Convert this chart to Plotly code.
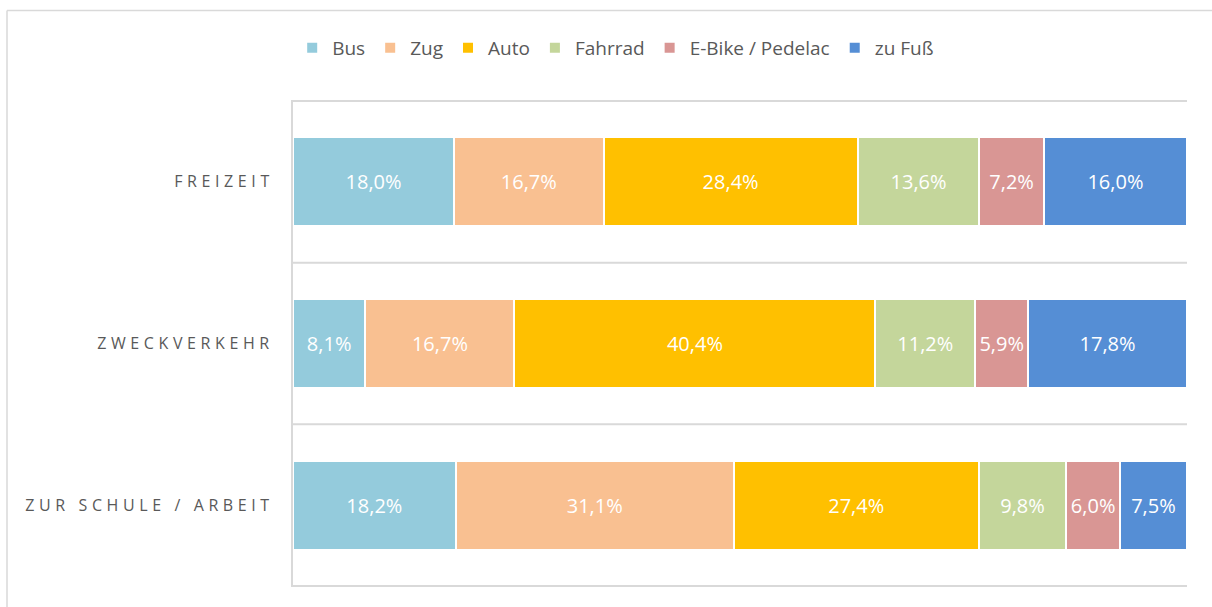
import plotly.graph_objects as go

categories = ["FREIZEIT", "ZWECKVERKEHR", "ZUR SCHULE / ARBEIT"]
modes = ["Bus", "Zug", "Auto", "Fahrrad", "E-Bike / Pedelac", "zu Fuß"]
bus = [18.0, 8.1, 18.2]
zug = [16.7, 16.7, 31.1]
auto = [28.4, 40.4, 27.4]
fahrrad = [13.6, 11.2, 9.8]
ebike = [7.2, 5.9, 6.0]
zufuss = [16.0, 17.8, 7.5]
series = [bus, zug, auto, fahrrad, ebike, zufuss]
colors = ["#94CBDC", "#F9C091", "#FFC000", "#C4D69B", "#D99694", "#558ED5"]

W, H = 1212, 607
ML, MR, MT, MB = 293, 25, 100, 20

fig = go.Figure()
for name, vals, col in zip(modes, series, colors):
    fig.add_trace(go.Bar(
        y=categories, x=vals, name=name, orientation="h",
        marker=dict(color=col, line=dict(color="white", width=2)),
        text=[f"{v:.1f}%".replace(".", ",") for v in vals],
        textposition="inside", insidetextanchor="middle",
        textfont=dict(color="white", size=20, family="Open Sans"),
        hoverinfo="skip",
    ))

grid = "#D9D9D9"
shapes = []
for b in [-0.5, 0.5, 1.5, 2.5]:
    shapes.append(dict(type="line", xref="paper", yref="y", x0=0, x1=1, y0=b, y1=b,
                       line=dict(color=grid, width=2), layer="below"))
pw = W - ML - MR
ph = H - MT - MB
def px_x(p):
    return (p - ML) / pw
def px_y(p):
    return (H - MB - p) / ph
# outer chart border (top and left edges visible)
shapes.append(dict(type="line", xref="paper", yref="paper", x0=px_x(7), x1=px_x(1220),
                   y0=px_y(10.5), y1=px_y(10.5), line=dict(color=grid, width=1.5)))
shapes.append(dict(type="line", xref="paper", yref="paper", x0=px_x(7), x1=px_x(7),
                   y0=px_y(10.5), y1=px_y(615), line=dict(color=grid, width=1.5)))

fig.update_layout(
    width=W, height=H,
    margin=dict(l=ML, r=MR, t=MT, b=MB),
    barmode="stack", barnorm="percent", bargap=0.45,
    plot_bgcolor="white", paper_bgcolor="white",
    font=dict(family="Open Sans", color="#595959"),
    uniformtext=dict(minsize=20, mode="show"),
    showlegend=True,
    legend=dict(orientation="h", xref="container", yref="container",
                x=0.508, xanchor="center", y=1 - 48 / H, yanchor="middle",
                font=dict(size=19, color="#595959"), itemwidth=30,
                traceorder="normal"),
    shapes=shapes,
    xaxis=dict(range=[0, 100], showgrid=False, zeroline=False, showticklabels=False,
               showline=False, fixedrange=True),
    yaxis=dict(autorange="reversed", showgrid=False, showline=True, linecolor=grid,
               linewidth=2, ticks="", tickfont=dict(size=16, color="#595959"),
               ticklabelstandoff=14, fixedrange=True),
)

post = """
document.body.style.margin = '0';
document.body.style.overflow = 'hidden';
var gd = document.getElementById('{plot_id}');
function sp(){ document.querySelectorAll('.ytick text').forEach(function(t){ t.setAttribute('letter-spacing','4.6px'); }); }
sp();
if (gd && gd.on) { gd.on('plotly_afterplot', sp); }
"""
fig.write_html("out.html", post_script=post, config={"displayModeBar": False})
